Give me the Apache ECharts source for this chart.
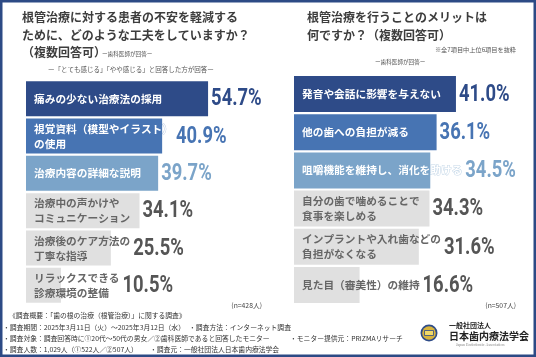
<!DOCTYPE html>
<html><head><meta charset="utf-8">
<script src="https://cdn.jsdelivr.net/npm/echarts@6/dist/echarts.min.js"></script>
<style>html,body{margin:0;padding:0;background:#fff}#c{width:536px;height:357px}</style>
</head><body><div id="c"></div>
<script>
const leftCats = ['痛みの少ない治療法の採用', '視覚資料（模型やイラスト）\nの使用', '治療内容の詳細な説明', '治療中の声かけや\nコミュニケーション', '治療後のケア方法の\n丁寧な指導', 'リラックスできる\n診療環境の整備'];
const leftValues = [54.7, 40.9, 39.7, 34.1, 25.5, 10.5];
const rightCats = ['発音や会話に影響を与えない', '他の歯への負担が減る', '咀嚼機能を維持し、消化を助ける', '自分の歯で噛めることで\n食事を楽しめる', 'インプラントや入れ歯などの\n負担がなくなる', '見た目（審美性）の維持'];
const rightValues = [41.0, 36.1, 34.5, 34.3, 31.6, 16.6];

const barColors = ['#2e4b88', '#4774b3', '#7ba4c9', '#e0e0e0', '#e0e0e0', '#e0e0e0'];
const valueColors = ['#2e4b88', '#4774b3', '#7ba4c9', '#555555', '#555555', '#555555'];
const nameColors = ['#ffffff', '#ffffff', '#ffffff', '#666666', '#666666', '#666666'];
const outlineColors = ['rgba(46,75,136,0.35)', 'rgba(71,116,179,0.35)', 'rgba(123,164,201,0.45)', 'transparent', 'transparent', 'transparent'];

const JP = '"Noto Sans CJK JP", "Noto Sans", sans-serif';
const NUM = 'Roboto, "Liberation Sans", sans-serif';
const nameFontSize = 10.7;
const namePad = 8;

const chart = echarts.init(document.getElementById('c'), null, {renderer: 'canvas'});

const cv = document.createElement('canvas').getContext('2d');
cv.font = 'bold ' + nameFontSize + 'px ' + JP;
function nameWidth(s) {
  return Math.max.apply(null, s.split('\n').map(l => cv.measureText(l).width));
}

function barSeries(idx, cats, values, bw) {
  return {
    type: 'bar', xAxisIndex: idx, yAxisIndex: idx, barWidth: bw, silent: true,
    data: values.map((v, i) => ({
      value: v,
      itemStyle: {color: barColors[i]},
      label: {color: nameColors[i], textBorderColor: outlineColors[i], textBorderWidth: i < 3 ? 1 : 0}
    })),
    label: {
      show: true, position: 'insideLeft', distance: namePad,
      formatter: p => cats[p.dataIndex],
      fontSize: nameFontSize, fontFamily: JP, fontWeight: 'bold', lineHeight: 15
    }
  };
}
function valueSeries(idx, cats, values) {
  return {
    type: 'custom', xAxisIndex: idx, yAxisIndex: idx, silent: true, z: 5,
    data: values.map((v, i) => [v, i]),
    renderItem: function (params, api) {
      const v = api.value(0), i = api.value(1);
      const end = api.coord([v, i]);
      const start = api.coord([0, i]);
      const textEnd = start[0] + namePad + nameWidth(cats[i]);
      const x = Math.max(end[0], textEnd) + 3;
      return {
        type: 'text', x: x, y: end[1] + 1, scaleX: 0.8,
        style: {
          text: v.toFixed(1) + '%', x: 0, y: 0,
          font: 'bold 23px ' + NUM, fill: valueColors[i],
          align: 'left', verticalAlign: 'middle'
        }
      };
    }
  };
}

function t(text, x, y, size, opts) {
  opts = opts || {};
  return {
    type: 'text', silent: true,
    style: {
      text: text, x: x, y: y,
      font: (opts.weight || 'normal') + ' ' + size + 'px ' + (opts.family || JP),
      fill: opts.color || '#3d3d3d',
      align: opts.align || 'left', verticalAlign: 'middle'
    }
  };
}

const graphics = [
  {type: 'rect', silent: true, shape: {x: 1.25, y: 1.25, width: 533.5, height: 354.5},
   style: {fill: 'none', stroke: '#2d4a85', lineWidth: 2.5}},
  t('根管治療に対する患者の不安を軽減する', 22, 17, 12, {weight: 'bold'}),
  t('ために、どのような工夫をしていますか？', 22, 35, 12, {weight: 'bold'}),
  t('（複数回答可）', 22, 52, 12, {weight: 'bold'}),
  t('ー歯科医師が回答ー', 102, 54, 5.6, {color: '#555'}),
  t('ー「とても感じる」「やや感じる」と回答した方が回答ー', 48, 70, 6.5, {color: '#555'}),
  t('根管治療を行うことのメリットは', 307, 17, 12, {weight: 'bold'}),
  t('何ですか？（複数回答可）', 307, 35, 12, {weight: 'bold'}),
  t('※全7項目中上位6項目を抜粋', 516, 50, 6.2, {color: '#555', align: 'right'}),
  t('ー歯科医師が回答ー', 375, 62, 5.6, {color: '#555'}),
  t('(n=428人)', 262, 305, 6.8, {color: '#444', align: 'right'}),
  t('(n=507人)', 516, 305, 6.8, {color: '#444', align: 'right'}),
  t('《調査概要：「歯の根の治療（根管治療）」に関する調査》', 9, 315, 6.8, {color: '#333'}),
  t('・調査期間：2025年3月11日（火）〜2025年3月12日（水）', 3, 327, 6.8, {color: '#333'}),
  t('・調査方法：インターネット調査', 189, 327, 6.8, {color: '#333'}),
  t('・調査対象：調査回答時に①20代〜50代の男女／②歯科医師であると回答したモニター', 3, 338, 6.8, {color: '#333'}),
  t('・モニター提供元：PRIZMAリサーチ', 290, 338, 6.8, {color: '#333'}),
  t('・調査人数：1,029人（①522人／②507人）', 3, 349, 6.8, {color: '#333'}),
  t('・調査元：一般社団法人日本歯内療法学会', 150, 349, 6.8, {color: '#333'}),
  {type: 'circle', silent: true, shape: {cx: 429, cy: 333, r: 8.5}, style: {fill: '#2e4b88'}},
  {type: 'circle', silent: true, shape: {cx: 429, cy: 333, r: 6.8}, style: {fill: '#d8b43c'}},
  {type: 'rect', silent: true, shape: {x: 424.5, y: 330.5, width: 9, height: 5}, style: {fill: '#f1d968', stroke: '#2e4b88', lineWidth: 0.8}},
  t('一般社団法人', 449, 325, 7, {weight: 'bold', color: '#222'}),
  t('日本歯内療法学会', 449, 336, 10, {weight: 'bold', color: '#222'}),
  t('Japan Endodontic Association', 456, 345, 4, {color: '#888', family: '"Liberation Serif", serif'})
];

chart.setOption({
  animation: false,
  backgroundColor: '#fff',
  grid: [
    {left: 26, top: 80, width: 233, height: 224},
    {left: 294, top: 75, width: 237, height: 229}
  ],
  xAxis: [
    {gridIndex: 0, type: 'value', min: 0, max: 70, show: false},
    {gridIndex: 1, type: 'value', min: 0, max: 60, show: false}
  ],
  yAxis: [
    {gridIndex: 0, type: 'category', inverse: true, data: leftCats, show: false},
    {gridIndex: 1, type: 'category', inverse: true, data: rightCats, show: false}
  ],
  series: [
    barSeries(0, leftCats, leftValues, 35),
    valueSeries(0, leftCats, leftValues),
    barSeries(1, rightCats, rightValues, 36),
    valueSeries(1, rightCats, rightValues)
  ],
  graphic: graphics
});
</script></body></html>
